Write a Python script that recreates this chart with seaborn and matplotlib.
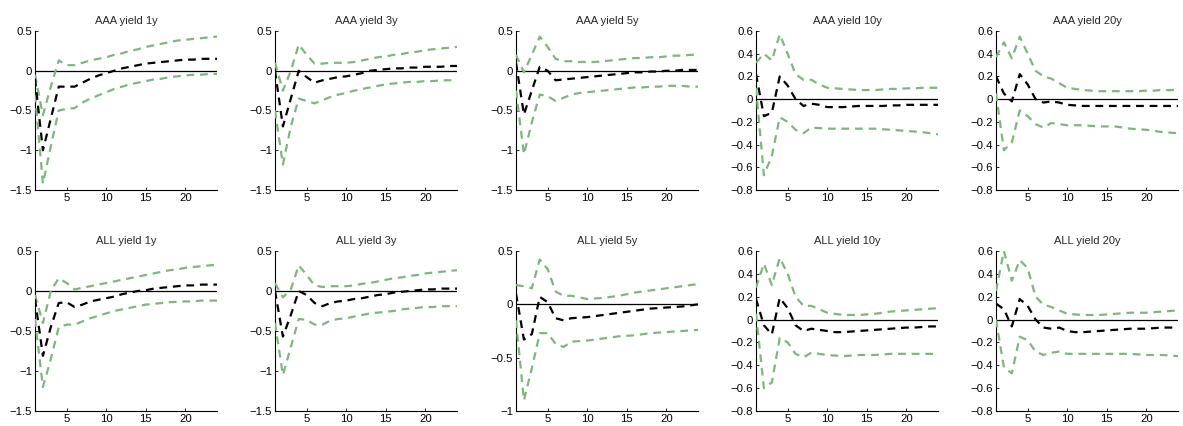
import numpy as np
import pandas as pd
import matplotlib
matplotlib.use("Agg")
import matplotlib.pyplot as plt
from matplotlib.ticker import FixedLocator, FixedFormatter
import seaborn as sns

sns.set_theme(style="white")
plt.rcParams["font.family"] = ["Liberation Sans", "DejaVu Sans"]

horizon = list(range(1, 25))

titles = ["AAA yield 1y", "AAA yield 3y", "AAA yield 5y", "AAA yield 10y", "AAA yield 20y",
          "ALL yield 1y", "ALL yield 3y", "ALL yield 5y", "ALL yield 10y", "ALL yield 20y"]

# point response (black) and upper / lower bands (green), horizons 1..24
aaa_1y_mid = [-0.10, -1.00, -0.60, -0.20, -0.20, -0.20, -0.15, -0.10, -0.06, -0.03, 0.00, 0.03,
              0.05, 0.07, 0.09, 0.10, 0.11, 0.12, 0.13, 0.14, 0.14, 0.15, 0.15, 0.15]
aaa_1y_up = [-0.05, -0.56, -0.20, 0.13, 0.07, 0.07, 0.10, 0.13, 0.15, 0.17, 0.20, 0.22,
             0.25, 0.27, 0.30, 0.32, 0.34, 0.36, 0.38, 0.39, 0.40, 0.41, 0.42, 0.43]
aaa_1y_lo = [-0.30, -1.42, -0.95, -0.50, -0.48, -0.47, -0.40, -0.35, -0.31, -0.27, -0.23, -0.20,
             -0.17, -0.15, -0.13, -0.11, -0.10, -0.08, -0.07, -0.06, -0.05, -0.05, -0.04, -0.04]

aaa_3y_mid = [0.00, -0.70, -0.35, 0.00, -0.08, -0.15, -0.12, -0.10, -0.08, -0.07, -0.05, -0.03,
              0.00, 0.01, 0.02, 0.03, 0.03, 0.04, 0.04, 0.05, 0.05, 0.05, 0.06, 0.06]
aaa_3y_up = [0.10, -0.25, 0.00, 0.33, 0.20, 0.09, 0.09, 0.10, 0.10, 0.10, 0.11, 0.13,
             0.15, 0.17, 0.18, 0.20, 0.21, 0.23, 0.24, 0.26, 0.27, 0.28, 0.29, 0.30]
aaa_3y_lo = [-0.50, -1.18, -0.70, -0.35, -0.38, -0.41, -0.37, -0.33, -0.30, -0.28, -0.25, -0.23,
             -0.21, -0.19, -0.17, -0.16, -0.15, -0.14, -0.14, -0.13, -0.13, -0.12, -0.12, -0.12]

aaa_5y_mid = [0.10, -0.55, -0.25, 0.05, 0.00, -0.12, -0.11, -0.10, -0.09, -0.08, -0.07, -0.06,
              -0.05, -0.04, -0.03, -0.02, -0.02, -0.01, -0.01, 0.00, 0.00, 0.01, 0.01, 0.01]
aaa_5y_up = [0.20, -0.02, 0.20, 0.43, 0.30, 0.15, 0.12, 0.12, 0.11, 0.11, 0.11, 0.12,
             0.13, 0.14, 0.15, 0.16, 0.16, 0.17, 0.17, 0.18, 0.19, 0.19, 0.20, 0.20]
aaa_5y_lo = [-0.25, -1.05, -0.65, -0.30, -0.32, -0.38, -0.34, -0.30, -0.28, -0.27, -0.26, -0.25,
             -0.24, -0.23, -0.22, -0.21, -0.21, -0.20, -0.20, -0.19, -0.19, -0.19, -0.20, -0.20]

aaa_10y_mid = [0.22, -0.15, -0.12, 0.20, 0.12, 0.00, -0.06, -0.04, -0.05, -0.07, -0.07, -0.07,
               -0.065, -0.06, -0.06, -0.06, -0.06, -0.055, -0.055, -0.05, -0.05, -0.05, -0.05, -0.05]
aaa_10y_up = [0.32, 0.40, 0.34, 0.57, 0.40, 0.22, 0.17, 0.17, 0.13, 0.10, 0.095, 0.09,
              0.085, 0.08, 0.08, 0.08, 0.085, 0.09, 0.09, 0.095, 0.095, 0.10, 0.10, 0.10]
aaa_10y_lo = [0.10, -0.67, -0.50, -0.16, -0.20, -0.27, -0.30, -0.25, -0.255, -0.26, -0.26, -0.26,
              -0.26, -0.26, -0.26, -0.26, -0.265, -0.27, -0.275, -0.28, -0.285, -0.29, -0.30, -0.31]

aaa_20y_mid = [0.20, 0.05, -0.02, 0.22, 0.13, 0.00, -0.03, -0.02, -0.03, -0.05, -0.055, -0.06,
               -0.06, -0.06, -0.06, -0.06, -0.06, -0.06, -0.06, -0.06, -0.06, -0.06, -0.06, -0.06]
aaa_20y_up = [0.37, 0.50, 0.36, 0.55, 0.40, 0.25, 0.20, 0.18, 0.14, 0.10, 0.09, 0.08,
              0.075, 0.07, 0.07, 0.07, 0.07, 0.07, 0.07, 0.075, 0.075, 0.08, 0.08, 0.08]
aaa_20y_lo = [0.05, -0.45, -0.38, -0.10, -0.15, -0.22, -0.25, -0.21, -0.22, -0.23, -0.23, -0.23,
              -0.235, -0.24, -0.24, -0.24, -0.25, -0.26, -0.265, -0.27, -0.28, -0.29, -0.295, -0.30]

all_1y_mid = [-0.10, -0.81, -0.45, -0.15, -0.14, -0.20, -0.17, -0.13, -0.11, -0.09, -0.07, -0.04,
              -0.02, 0.00, 0.01, 0.03, 0.04, 0.05, 0.06, 0.07, 0.07, 0.08, 0.08, 0.08]
all_1y_up = [-0.05, -0.40, 0.00, 0.16, 0.10, 0.02, 0.04, 0.06, 0.08, 0.10, 0.12, 0.14,
             0.16, 0.18, 0.20, 0.22, 0.24, 0.26, 0.27, 0.29, 0.30, 0.31, 0.32, 0.33]
all_1y_lo = [-0.35, -1.20, -0.85, -0.45, -0.42, -0.42, -0.38, -0.34, -0.31, -0.28, -0.25, -0.23,
             -0.21, -0.19, -0.17, -0.16, -0.15, -0.14, -0.135, -0.13, -0.13, -0.12, -0.12, -0.12]

all_3y_mid = [0.00, -0.57, -0.30, 0.00, -0.05, -0.15, -0.19, -0.15, -0.13, -0.12, -0.10, -0.09,
              -0.07, -0.05, -0.04, -0.02, -0.01, 0.00, 0.01, 0.02, 0.02, 0.03, 0.03, 0.03]
all_3y_up = [0.10, -0.08, 0.02, 0.32, 0.20, 0.07, 0.05, 0.06, 0.06, 0.06, 0.07, 0.09,
             0.10, 0.12, 0.14, 0.16, 0.17, 0.19, 0.20, 0.22, 0.23, 0.24, 0.25, 0.26]
all_3y_lo = [-0.40, -1.05, -0.70, -0.35, -0.36, -0.42, -0.42, -0.37, -0.35, -0.34, -0.32, -0.30,
             -0.28, -0.27, -0.26, -0.25, -0.23, -0.22, -0.21, -0.20, -0.20, -0.19, -0.19, -0.19]

all_5y_mid = [0.10, -0.33, -0.28, 0.07, 0.02, -0.13, -0.15, -0.13, -0.125, -0.12, -0.11, -0.10,
              -0.09, -0.08, -0.07, -0.06, -0.05, -0.04, -0.035, -0.03, -0.025, -0.02, -0.01, 0.00]
all_5y_up = [0.18, 0.17, 0.15, 0.42, 0.33, 0.12, 0.08, 0.08, 0.065, 0.05, 0.055, 0.06,
             0.07, 0.08, 0.095, 0.11, 0.12, 0.13, 0.14, 0.15, 0.16, 0.17, 0.18, 0.19]
all_5y_lo = [-0.15, -0.90, -0.60, -0.27, -0.27, -0.37, -0.40, -0.35, -0.345, -0.34, -0.33, -0.32,
             -0.31, -0.30, -0.295, -0.29, -0.28, -0.27, -0.265, -0.26, -0.255, -0.25, -0.245, -0.24]

all_10y_mid = [0.18, -0.05, -0.13, 0.19, 0.10, -0.05, -0.10, -0.08, -0.09, -0.10, -0.11, -0.11,
               -0.105, -0.10, -0.095, -0.09, -0.085, -0.08, -0.075, -0.07, -0.07, -0.065, -0.06, -0.06]
all_10y_up = [0.28, 0.49, 0.30, 0.54, 0.40, 0.20, 0.12, 0.12, 0.09, 0.06, 0.05, 0.04,
              0.04, 0.04, 0.045, 0.05, 0.06, 0.07, 0.075, 0.08, 0.085, 0.09, 0.095, 0.10]
all_10y_lo = [0.05, -0.60, -0.55, -0.16, -0.20, -0.30, -0.33, -0.29, -0.30, -0.31, -0.315, -0.32,
              -0.315, -0.31, -0.31, -0.31, -0.305, -0.30, -0.30, -0.30, -0.30, -0.30, -0.30, -0.30]

all_20y_mid = [0.14, 0.09, -0.06, 0.18, 0.12, 0.00, -0.07, -0.08, -0.07, -0.10, -0.11, -0.11,
               -0.105, -0.10, -0.095, -0.09, -0.085, -0.08, -0.08, -0.08, -0.075, -0.07, -0.07, -0.07]
all_20y_up = [0.25, 0.60, 0.34, 0.52, 0.45, 0.20, 0.13, 0.11, 0.08, 0.05, 0.045, 0.04,
              0.04, 0.04, 0.045, 0.05, 0.055, 0.06, 0.06, 0.06, 0.065, 0.07, 0.075, 0.08]
all_20y_lo = [0.00, -0.42, -0.47, -0.15, -0.18, -0.28, -0.31, -0.29, -0.28, -0.30, -0.30, -0.30,
              -0.30, -0.30, -0.30, -0.30, -0.30, -0.30, -0.305, -0.31, -0.31, -0.31, -0.315, -0.32]

mids = [aaa_1y_mid, aaa_3y_mid, aaa_5y_mid, aaa_10y_mid, aaa_20y_mid,
        all_1y_mid, all_3y_mid, all_5y_mid, all_10y_mid, all_20y_mid]
ups = [aaa_1y_up, aaa_3y_up, aaa_5y_up, aaa_10y_up, aaa_20y_up,
       all_1y_up, all_3y_up, all_5y_up, all_10y_up, all_20y_up]
los = [aaa_1y_lo, aaa_3y_lo, aaa_5y_lo, aaa_10y_lo, aaa_20y_lo,
       all_1y_lo, all_3y_lo, all_5y_lo, all_10y_lo, all_20y_lo]

xticks = [5, 10, 15, 20]
yticks_wide = [-1.5, -1, -0.5, 0, 0.5]
ylabels_wide = ["\u22121.5", "\u22121", "\u22120.5", "0", "0.5"]
yticks_mid = [-1, -0.5, 0, 0.5]
ylabels_mid = ["\u22121", "\u22120.5", "0", "0.5"]
yticks_long = [-0.8, -0.6, -0.4, -0.2, 0, 0.2, 0.4, 0.6]
ylabels_long = ["\u22120.8", "\u22120.6", "\u22120.4", "\u22120.2", "0", "0.2", "0.4", "0.6"]

yaxis_specs = [(yticks_wide, ylabels_wide)] * 3 + [(yticks_long, ylabels_long)] * 2 + \
              [(yticks_wide, ylabels_wide)] * 2 + [(yticks_mid, ylabels_mid)] + \
              [(yticks_long, ylabels_long)] * 2

band_color = "#7cb87c"

fig = plt.figure(figsize=(11.83, 4.26), dpi=100)
W, H = 1183, 426
col_left = [35, 275, 516, 756, 996]
ax_w = 182
row_top = [31, 251]
ax_h = [159, 160]

for i in range(10):
    r, c = divmod(i, 5)
    left = col_left[c] / W
    bottom = 1 - (row_top[r] + ax_h[r]) / H
    ax = fig.add_axes([left, bottom, ax_w / W, ax_h[r] / H])

    df = pd.DataFrame({"h": horizon, "mid": mids[i], "up": ups[i], "lo": los[i]})
    ax.axhline(0, color="black", lw=0.9, zorder=1)
    for col, colr in (("up", band_color), ("lo", band_color), ("mid", "black")):
        sns.lineplot(data=df, x="h", y=col, ax=ax, color=colr, lw=1.6, zorder=3)
        ax.get_lines()[-1].set_dashes((3.5, 2.6))

    ticks, labels = yaxis_specs[i]
    ax.set_xlim(1, 24)
    ax.set_ylim(ticks[0], ticks[-1])
    ax.xaxis.set_major_locator(FixedLocator(xticks))
    ax.set_xticklabels([str(t) for t in xticks])
    ax.yaxis.set_major_locator(FixedLocator(ticks))
    ax.yaxis.set_major_formatter(FixedFormatter(labels))
    ax.set_xlabel("")
    ax.set_ylabel("")
    ax.set_title(titles[i], fontsize=8, pad=5)
    ax.tick_params(axis="both", direction="in", length=2.5, width=0.6,
                   labelsize=8.2, pad=2, left=True, bottom=True, colors="black")
    for side in ("top", "right"):
        ax.spines[side].set_visible(False)
    for side in ("left", "bottom"):
        ax.spines[side].set_color("black")
        ax.spines[side].set_linewidth(0.8)
    ax.set_facecolor("white")

fig.savefig("out.png", dpi=100, facecolor="white")
